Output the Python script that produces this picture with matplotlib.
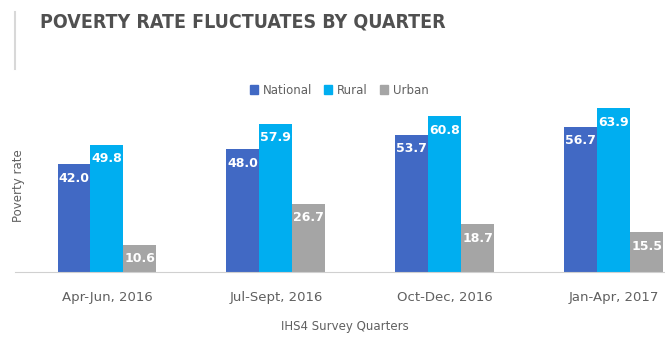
import numpy as np
import matplotlib.pyplot as plt
from matplotlib import font_manager
from matplotlib.lines import Line2D

quarters = ['Apr-Jun, 2016', 'Jul-Sept, 2016', 'Oct-Dec, 2016', 'Jan-Apr, 2017']
national = [42.0, 48.0, 53.7, 56.7]
rural = [49.8, 57.9, 60.8, 63.9]
urban = [10.6, 26.7, 18.7, 15.5]

series = [('National', national, '#4169c4'),
          ('Rural', rural, '#00aef0'),
          ('Urban', urban, '#a5a5a5')]

# pick the narrowest bold face available for the heading
rank = {'ultra-condensed': 0, 'extra-condensed': 1, 'condensed': 2, 'semi-condensed': 3}
cands = []
for f in font_manager.fontManager.ttflist:
    nm = (f.name + ' ' + f.fname).lower()
    r = rank.get(f.stretch)
    if r is None and ('narrow' in nm or 'condensed' in nm):
        r = 1 if 'extracondensed' in nm.replace('-', '').replace(' ', '') else 2
    if r is None:
        continue
    wt = f.weight if isinstance(f.weight, int) else 400
    cands.append((r, abs(wt - 700), f.fname))
cands.sort()
head_font = font_manager.FontProperties(fname=cands[0][2]) if cands else font_manager.FontProperties(weight='bold')

fig = plt.figure(figsize=(6.65, 3.43), dpi=100)
ax = fig.add_axes([0.0226, 0.207, 0.977, 0.5015])

x = np.arange(len(quarters))
w = 0.195
for i, (name, vals, col) in enumerate(series):
    pos = x + (i - 1) * w
    bars = ax.bar(pos, vals, w, color=col, label=name)
    for b, v in zip(bars, vals):
        ax.annotate(f'{v:.1f}', (b.get_x() + b.get_width() / 2, v),
                    xytext=(0, -14), textcoords='offset pixels',
                    ha='center', va='center', color='white',
                    fontsize=9, fontweight='bold')

ax.set_xlim(-0.544, 3.302)
ax.set_ylim(0, 67.2)
ax.set_xticks(x)
ax.set_xticklabels(quarters, fontsize=9.5, color='#606060')
ax.tick_params(axis='x', length=0, pad=14)
ax.set_yticks([])
for s in ['top', 'right', 'left']:
    ax.spines[s].set_visible(False)
ax.spines['bottom'].set_color('#d0d0d0')

ax.set_ylabel('Poverty rate', fontsize=8.5, color='#606060')
ax.yaxis.set_label_coords(0.015, 0.5)
fig.text(0.519, 0.047, 'IHS4 Survey Quarters', ha='center', va='center',
         fontsize=8.5, color='#606060')

# heading, shrunk until it spans about 340 px
head = fig.text(0.06, 0.935, 'POVERTY RATE FLUCTUATES BY QUARTER', ha='left',
                va='center', color='#505050', fontproperties=head_font)
head.set_fontsize(18)
rend = fig.canvas.get_renderer()
wpx = head.get_window_extent(rend).width
if wpx > 340:
    head.set_fontsize(max(14, 18 * 340 / wpx))
fig.add_artist(Line2D([0.0226, 0.0226], [0.8, 0.965], color='#d8d8d8', lw=1.5))

handles = [plt.Rectangle((0, 0), 1, 1, color=c) for _, _, c in series]
fig.legend(handles, [n for n, _, _ in series], loc='center', ncol=3,
           bbox_to_anchor=(0.51, 0.737), frameon=False, fontsize=8.5,
           labelcolor='#606060', handlelength=0.7, handleheight=0.7,
           handletextpad=0.4, columnspacing=1.0)

fig.savefig('out.png', dpi=100)
